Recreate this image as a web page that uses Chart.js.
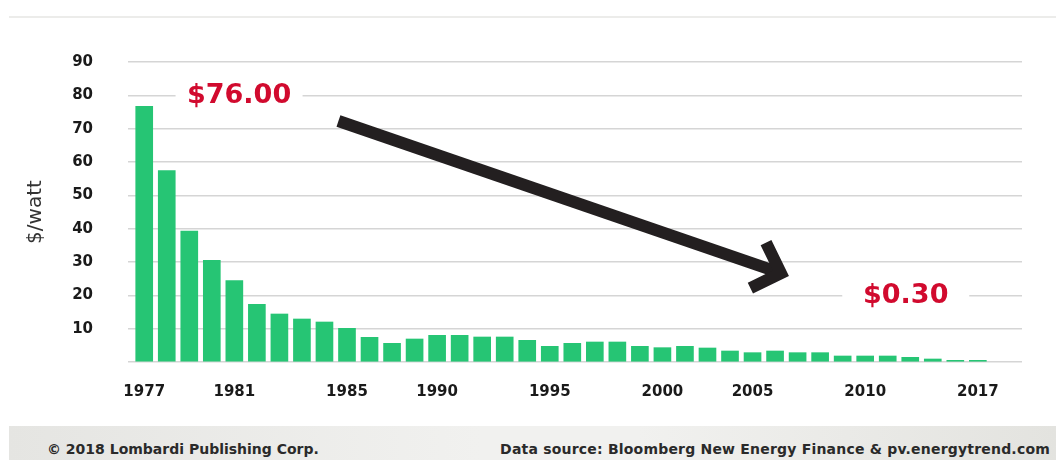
<!DOCTYPE html>
<html>
<head>
<meta charset="utf-8">
<script src="https://cdn.jsdelivr.net/npm/chart.js@4/dist/chart.umd.min.js"></script>
<style>
    html, body { margin: 0; padding: 0; background: #fff; }
    body { width: 1056px; height: 460px; position: relative; overflow: hidden; font-family: "DejaVu Sans", sans-serif; }
    #wrap { position: absolute; left: 0; top: 0; width: 1056px; height: 426px; }
    .topline { position: absolute; left: 9px; right: 0; top: 16px; height: 2px; background: #ececea; }
    .footer { position: absolute; left: 9px; right: 0; top: 426px; height: 34px;
        background: linear-gradient(to right, #e5e5e2 0%, #f1f1ef 45%, #f1f1ef 60%, #e3e3df 100%); }
    .footer span { position: absolute; top: 15px; font-size: 14px; line-height: 17px; font-weight: bold; color: #2a2a2a; }
    .footer .left { left: 38px; }
    .footer .right { right: 6px; letter-spacing: 0.2px; }
</style>
</head>
<body>
<div class="topline"></div>
<div id="wrap"><canvas id="priceChart"></canvas></div>
<div class="footer">
    <span class="left">© 2018 Lombardi Publishing Corp.</span>
    <span class="right">Data source: Bloomberg New Energy Finance &amp; pv.energytrend.com</span>
</div>

<script>
// Prix des modules solaires ($/watt), une barre par année
const years = [1977, 1978, 1979, 1980, 1981, 1982, 1983, 1984, 1985, 1986,
    1987, 1988, 1989, 1990, 1991, 1992, 1993, 1994, 1995, 1996,
    1997, 1998, 1999, 2000, 2001, 2002, 2003, 2004, 2005, 2006,
    2007, 2008, 2009, 2010, 2011, 2012, 2013, 2014];

const prices = [76.67, 57.4, 39.3, 30.5, 24.4, 17.3, 14.4, 12.9, 12.0, 10.1,
    7.4, 5.6, 6.9, 8.0, 8.0, 7.5, 7.5, 6.5, 4.7, 5.6,
    6.0, 6.0, 4.7, 4.3, 4.7, 4.2, 3.3, 2.8, 3.3, 2.8,
    2.8, 1.8, 1.8, 1.8, 1.4, 0.9, 0.5, 0.5];

// libellés affichés sous les barres (vide = pas de libellé)
const xLabels = ['1977', '', '', '', '1981', '', '', '', '', '1985',
    '', '', '', '1990', '', '', '', '', '1995', '',
    '', '', '', '2000', '', '', '', '2005', '', '',
    '', '', '2010', '', '', '', '', '2017'];

const yTicks = [10, 20, 30, 40, 50, 60, 70, 80, 90];

const startLabel = '$76.00';
const endLabel = '$0.30';

const RED = '#d10a2e';
const GREEN = '#26c574';
const INK = '#231f20';

// Annotations : textes rouges + flèche
const annotationPlugin = {
    id: 'annotations',
    afterDraw(chart) {
        const ctx = chart.ctx;
        const x = chart.scales.x;
        const y = chart.scales.y;

        function label(text, xv, yv) {
            const px = x.getPixelForValue(xv);
            const py = y.getPixelForValue(yv);
            ctx.save();
            ctx.fillStyle = '#fff';
            ctx.fillRect(px - 63.5, py - 3, 127, 6);
            ctx.fillStyle = RED;
            ctx.font = 'bold 27px "DejaVu Sans"';
            ctx.textAlign = 'center';
            ctx.textBaseline = 'alphabetic';
            ctx.fillText(text, px, py + 8);
            ctx.restore();
        }
        label(startLabel, 4.21, 80);
        label(endLabel, 33.8, 20);

        // flèche
        const x0 = x.getPixelForValue(8.62), y0 = y.getPixelForValue(72.3);
        const x1 = x.getPixelForValue(28.26), y1 = y.getPixelForValue(26.64);
        const ang = Math.atan2(y1 - y0, x1 - x0);
        const wing = 34;
        ctx.save();
        ctx.strokeStyle = INK;
        ctx.lineWidth = 12;
        ctx.lineCap = 'butt';
        ctx.lineJoin = 'miter';
        ctx.beginPath();
        ctx.moveTo(x0, y0);
        ctx.lineTo(x1, y1);
        ctx.stroke();
        ctx.beginPath();
        ctx.moveTo(x1 - wing * Math.cos(ang - Math.PI / 4), y1 - wing * Math.sin(ang - Math.PI / 4));
        ctx.lineTo(x1, y1);
        ctx.lineTo(x1 - wing * Math.cos(ang + Math.PI / 4), y1 - wing * Math.sin(ang + Math.PI / 4));
        ctx.stroke();
        ctx.restore();
    }
};

const ctx = document.getElementById('priceChart').getContext('2d');
const chart = new Chart(ctx, {
    type: 'bar',
    data: {
        datasets: [{
            label: '$/watt',
            data: prices.map((v, i) => ({ x: i, y: v })),
            backgroundColor: GREEN,
            borderWidth: 0,
            barThickness: 17
        }]
    },
    options: {
        responsive: true,
        maintainAspectRatio: false,
        animation: false,
        devicePixelRatio: 1,
        layout: { padding: { top: 62, right: 34, bottom: 0, left: 0 } },
        plugins: {
            legend: { display: false },
            tooltip: { enabled: false }
        },
        scales: {
            x: {
                type: 'linear',
                offset: false,
                min: -0.72,
                max: 38.96,
                grid: { display: false },
                border: { display: false },
                ticks: {
                    stepSize: 1,
                    autoSkip: false,
                    includeBounds: false,
                    maxRotation: 0,
                    padding: 13,
                    color: '#1a1a1a',
                    font: { family: '"DejaVu Sans"', size: 15, weight: 'bold' },
                    callback: (v) => xLabels[v] || ''
                },
                afterFit: (scale) => { scale.height = 64; }
            },
            y: {
                min: 0,
                max: 90,
                grid: { color: '#d5d5d5', lineWidth: 1.5, drawTicks: false },
                border: { display: false },
                ticks: {
                    stepSize: 10,
                    padding: 35,
                    color: '#1a1a1a',
                    font: { family: '"DejaVu Sans"', size: 15, weight: 'bold' },
                    callback: (v) => yTicks.includes(v) ? String(v) : ''
                },
                title: {
                    display: true,
                    text: '$/watt',
                    color: '#333',
                    font: { family: '"DejaVu Sans"', size: 20, weight: 'normal' },
                    padding: { top: 24, bottom: 0 }
                },
                afterFit: (scale) => { scale.width = 128; }
            }
        }
    },
    plugins: [annotationPlugin]
});
</script>
</body>
</html>
